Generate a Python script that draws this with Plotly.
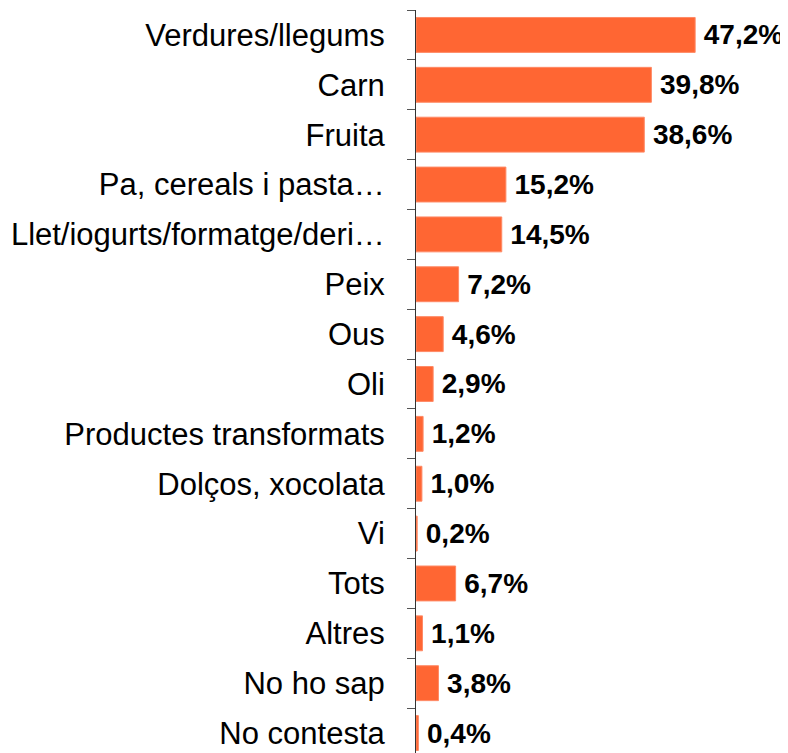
import plotly.graph_objects as go

categories = [
    "Verdures/llegums", "Carn", "Fruita", "Pa, cereals i pasta…",
    "Llet/iogurts/formatge/deri…", "Peix", "Ous", "Oli",
    "Productes transformats", "Dolços, xocolata", "Vi", "Tots",
    "Altres", "No ho sap", "No contesta",
]
values = [47.2, 39.8, 38.6, 15.2, 14.5, 7.2, 4.6, 2.9, 1.2, 1.0, 0.2, 6.7, 1.1, 3.8, 0.4]
value_labels = ["\u2009" + f"{v:.1f}%".replace(".", ",") for v in values]

fig = go.Figure(
    go.Bar(
        x=values,
        y=categories,
        orientation="h",
        marker=dict(color="#FF6633", line=dict(color="#FF8A66", width=1)),
        text=value_labels,
        textposition="outside",
        textfont=dict(family="Liberation Sans, Arial", size=28, color="#000000", weight="bold"),
        cliponaxis=False,
        width=0.7,
    )
)

fig.update_layout(
    width=780,
    height=745,
    margin=dict(l=408, r=0, t=2, b=0),
    paper_bgcolor="white",
    plot_bgcolor="white",
    showlegend=False,
    xaxis=dict(
        range=[0, 62.9],
        visible=False,
        showgrid=False,
        zeroline=False,
    ),
    yaxis=dict(
        type="category",
        categoryorder="array",
        categoryarray=categories,
        range=[14.4, -0.5],
        showline=True,
        linecolor="#333333",
        linewidth=1,
        ticks="outside",
        tickson="boundaries",
        ticklen=8,
        tickcolor="#555555",
        tickwidth=1,
        ticklabelstandoff=24,
        tickfont=dict(family="Liberation Sans, Arial", size=31, color="#000000"),
        showgrid=False,
        zeroline=False,
    ),
)

fig.write_html("out.html")
